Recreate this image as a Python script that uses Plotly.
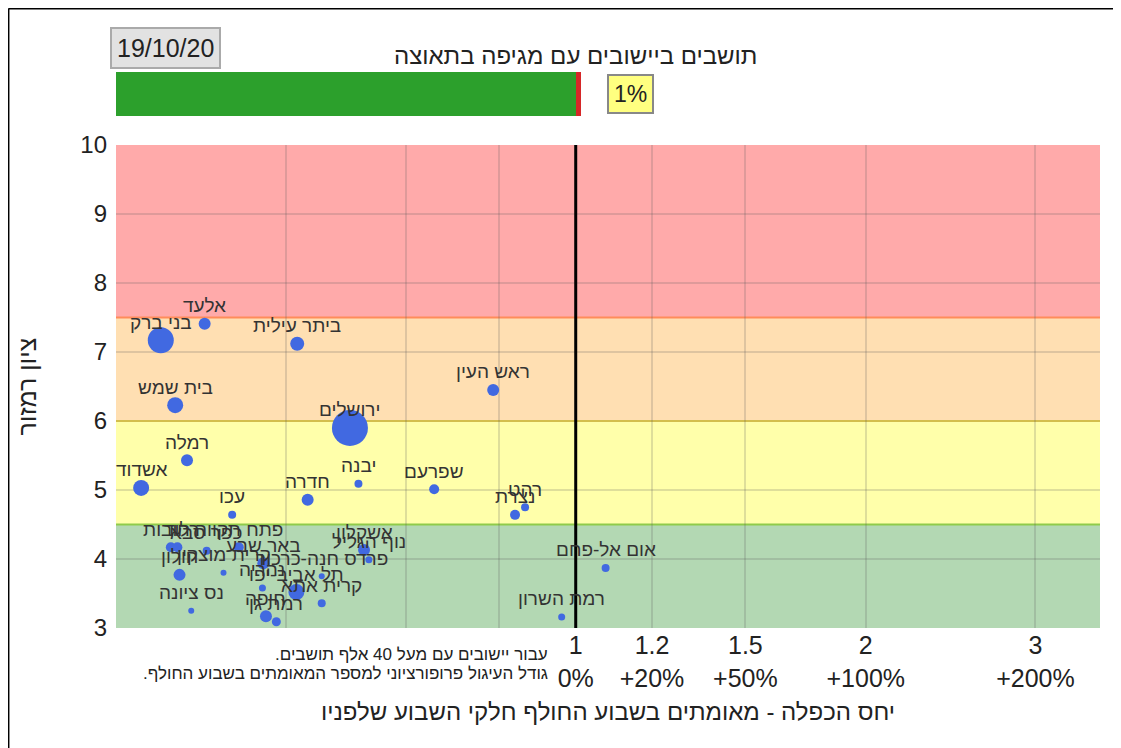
import math
import plotly.graph_objects as go

# ---------------- data ----------------
cities = ["בני ברק", "אלעד", "ביתר עילית", "בית שמש", "ירושלים", "ראש העין",
          "רמלה", "אשדוד", "יבנה", "חדרה", "שפרעם", "עכו", "רהט", "נצרת",
          "אום אל-פחם", "רמת השרון", "רחובות", "לוד", "כפר סבא", "פתח תקווה",
          "באר שבע", "חולון", "קרית מוצקין", "נס ציונה", "חיפה", "רמת גן",
          "תל אביב-יפו", "נהריה", "קרית אתא", "פרדס חנה-כרכור", "אשקלון", "נוף הגליל"]
ratio = [0.371, 0.412, 0.514, 0.384, 0.583, 0.821,
         0.395, 0.354, 0.595, 0.527, 0.713, 0.440, 0.886, 0.865,
         1.074, 0.967, 0.380, 0.386, 0.414, 0.447,
         0.474, 0.388, 0.431, 0.399, 0.477, 0.489,
         0.513, 0.473, 0.545, 0.545, 0.603, 0.610]
score = [7.17, 7.41, 7.12, 6.23, 5.90, 6.45,
         5.43, 5.03, 5.09, 4.86, 5.01, 4.64, 4.75, 4.64,
         3.87, 3.16, 4.17, 4.17, 4.12, 4.17,
         3.94, 3.77, 3.80, 3.25, 3.17, 3.09,
         3.52, 3.58, 3.36, 3.75, 4.13, 3.99]
weekly_cases = [507, 108, 147, 192, 972, 108,
                108, 192, 48, 108, 75, 48, 48, 75,
                48, 37, 75, 75, 48, 75,
                108, 108, 27, 27, 108, 61,
                192, 37, 48, 27, 108, 37]

x_tickvals = [0.5, 2 / 3, 5 / 6, 1, 1.2, 1.5, 2, 3]
x_ticktext = ["", "", "", "1<br>0%", "1.2<br>+20%", "1.5<br>+50%", "2<br>+100%", "3<br>+200%"]

bar_share_ok = 99
bar_share_accel = 1
date_label = "19/10/20"
bar_title = "תושבים ביישובים עם מגיפה בתאוצה"
share_label = "1%"
note_line1 = "עבור יישובים עם מעל 40 אלף תושבים.\u200f"
note_line2 = "גודל העיגול פרופורציוני למספר המאומתים בשבוע החולף.\u200f"

FONT = "Liberation Sans, Arial, sans-serif"

# ---------------- figure ----------------
fig = go.Figure()

fig.add_trace(go.Scatter(
    x=ratio, y=score, mode="markers", text=cities,
    marker=dict(size=weekly_cases, sizemode="area", sizeref=1.5,
                color="#4169E1", opacity=1, line=dict(width=0)),
    hoverinfo="text", showlegend=False, cliponaxis=False,
))

fig.add_trace(go.Bar(x=[bar_share_ok], y=[""], orientation="h",
                     marker=dict(color="#2ca02c", line=dict(width=0)),
                     xaxis="x2", yaxis="y2", showlegend=False, hoverinfo="skip"))
fig.add_trace(go.Bar(x=[bar_share_accel], y=[""], orientation="h",
                     marker=dict(color="#d62728", line=dict(width=0)),
                     xaxis="x2", yaxis="y2", showlegend=False, hoverinfo="skip"))

bands = [(7.5, 10, "#ffaaaa"), (6, 7.5, "#ffdfb2"), (4.5, 6, "#ffffaa"), (3, 4.5, "#b3d8b3")]
shapes = []
for y0, y1, c in bands:
    shapes.append(dict(type="rect", xref="x domain", yref="y", x0=0, x1=1, y0=y0, y1=y1,
                       fillcolor=c, line=dict(width=0), layer="below"))
for yv, c in [(7.5, "#ff8c5a"), (6, "#f2d84a"), (4.5, "#8fcb4a")]:
    shapes.append(dict(type="line", xref="x domain", yref="y", x0=0, x1=1, y0=yv, y1=yv,
                       line=dict(color=c, width=2), layer="below"))
shapes.append(dict(type="line", xref="x", yref="y", x0=1, x1=1, y0=3, y1=10,
                   line=dict(color="black", width=3)))
# outer frame lines (top and left)
shapes.append(dict(type="line", xref="paper", yref="paper", x0=-0.1093, x1=1.05, y0=1.0429, y1=1.0429,
                   line=dict(color="black", width=2)))
shapes.append(dict(type="line", xref="paper", yref="paper", x0=-0.1093, x1=-0.1093, y0=1.0429, y1=-0.25,
                   line=dict(color="black", width=2)))

annotations = [
    dict(text=date_label, xref="paper", yref="paper", x=0.0498, y=0.9764,
         xanchor="center", yanchor="middle", showarrow=False,
         font=dict(family=FONT, size=25, color="#222"),
         bgcolor="#e2e2e2", bordercolor="#aaaaaa", borderwidth=2, borderpad=5),
    dict(text=bar_title, xref="paper", yref="paper", x=0.4665, y=0.9646,
         xanchor="center", yanchor="middle", showarrow=False,
         font=dict(family=FONT, size=24, color="#222")),
    dict(text=share_label, xref="paper", yref="paper", x=0.5224, y=0.899,
         xanchor="center", yanchor="middle", showarrow=False,
         font=dict(family=FONT, size=23, color="#222"),
         bgcolor="#ffff80", bordercolor="#888888", borderwidth=2, borderpad=5),
    dict(text=note_line1, xref="paper", yref="paper", x=0.441, y=-0.0438,
         xanchor="right", yanchor="middle", showarrow=False,
         font=dict(family=FONT, size=17, color="#222")),
    dict(text=note_line2, xref="paper", yref="paper", x=0.441, y=-0.0758,
         xanchor="right", yanchor="middle", showarrow=False,
         font=dict(family=FONT, size=17, color="#222")),
]
# city labels: fixed offset above each point centre
for name, xv, yv in zip(cities, ratio, score):
    annotations.append(dict(text=name, xref="x", yref="y", x=math.log10(xv), y=yv,
                            xanchor="center", yanchor="middle", yshift=18, showarrow=False,
                            font=dict(family=FONT, size=19, color="#333333")))

fig.update_layout(
    width=1121, height=748,
    margin=dict(l=108, r=29, t=26, b=128),
    paper_bgcolor="white", plot_bgcolor="white",
    barmode="stack", bargap=0,
    shapes=shapes, annotations=annotations,
    xaxis=dict(type="log", range=[-0.4771, 0.5441], tickvals=x_tickvals, ticktext=x_ticktext,
               showgrid=True, gridcolor="rgba(90,90,90,0.2)", gridwidth=2, zeroline=False,
               ticks="", showline=False,
               tickfont=dict(family=FONT, size=25, color="#222"),
               title=dict(text="יחס הכפלה - מאומתים בשבוע החולף חלקי השבוע שלפניו",
                          font=dict(family=FONT, size=24, color="#222"),
                          standoff=12),
               domain=[0, 1]),
    yaxis=dict(range=[3, 10], dtick=1, showgrid=True, gridcolor="rgba(90,90,90,0.2)", gridwidth=2,
               zeroline=False, ticks="", showline=False, domain=[0, 0.8131],
               ticklabelstandoff=8,
               tickfont=dict(family=FONT, size=24, color="#222"),
               title=dict(text="ציון רמזור", font=dict(family=FONT, size=25, color="#222"),
                          standoff=36)),
    xaxis2=dict(domain=[0, 0.4726], range=[0, 100], visible=False, anchor="y2", fixedrange=True),
    yaxis2=dict(domain=[0.8620, 0.9360], visible=False, anchor="x2", fixedrange=True),
)

fig.write_html("out.html")
